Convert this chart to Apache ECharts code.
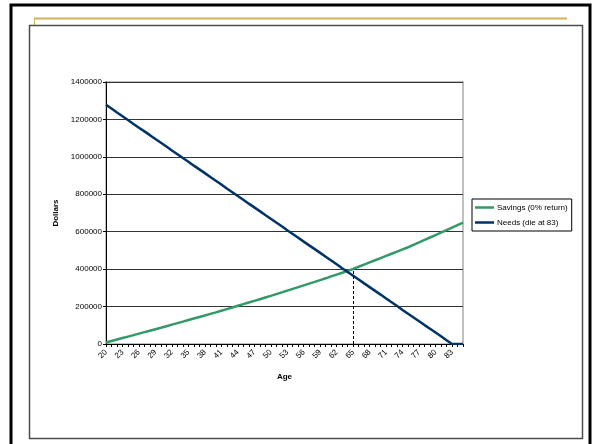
<!DOCTYPE html>
<html>
<head>
<meta charset="utf-8">
<script src="https://cdn.jsdelivr.net/npm/echarts@6/dist/echarts.min.js"></script>
<style>
html,body{margin:0;padding:0;background:#fff;}
#chart{width:600px;height:444px;}
</style>
</head>
<body>
<div id="chart"></div>
<script>
const ages = [20,21,22,23,24,25,26,27,28,29,30,31,32,33,34,35,36,37,38,39,40,41,42,43,44,45,46,47,48,49,50,51,52,53,54,55,56,57,58,59,60,61,62,63,64,65,66,67,68,69,70,71,72,73,74,75,76,77,78,79,80,81,82,83,84,85];
const savings = [8000,15900,23800,31700,39600,47500,55400,63300,71200,79100,87000,95200,103400,111600,119800,128000,136200,144400,152600,160800,169000,177800,186600,195400,204200,213000,221800,230600,239400,248200,257000,266400,275800,285200,294600,304000,313400,322800,332200,341600,351000,361000,371000,381000,391000,401000,412600,424200,435800,447400,459000,470600,482200,493800,505400,517000,530000,543000,556000,569000,582000,595000,608500,622000,635500,649000];
const needs = [1278000,1258000,1237000,1217000,1197000,1176000,1156000,1136000,1116000,1095000,1075000,1055000,1034000,1014000,994000,974000,953000,933000,913000,892000,872000,852000,831000,811000,791000,771000,750000,730000,710000,689000,669000,649000,629000,608000,588000,568000,547000,527000,507000,487000,466000,446000,426000,405000,385000,365000,345000,324000,304000,284000,264000,243000,223000,203000,182000,162000,142000,122000,101000,81000,61000,41000,20000,0,0,0];
const seriesNames = ['Savings (0% return)', 'Needs (die at 83)'];
const yTicks = {min: 0, max: 1400000, interval: 200000};
const retireAge = 65;

const chart = echarts.init(document.getElementById('chart'), null, {renderer: 'canvas'});
const font = 'Liberation Sans, Arial, sans-serif';
const retireIdx = ages.indexOf(retireAge);

chart.setOption({
  animation: false,
  backgroundColor: '#fff',
  graphic: [
    {type: 'rect', shape: {x: 11, y: 5, width: 579, height: 470}, style: {fill: 'none', stroke: '#000', lineWidth: 3}},
    {type: 'line', shape: {x1: 34, y1: 18.5, x2: 567, y2: 18.5}, style: {stroke: '#d4b257', lineWidth: 2}},
    {type: 'line', shape: {x1: 34.5, y1: 18, x2: 34.5, y2: 25}, style: {stroke: '#d4b257', lineWidth: 1}},
    {type: 'rect', shape: {x: 29.5, y: 25.5, width: 553, height: 413}, style: {fill: 'none', stroke: '#4d4d4d', lineWidth: 1.5}}
  ],
  grid: {left: 106, top: 82, width: 357, height: 262, show: true, borderColor: '#c0c0c0', borderWidth: 2, containLabel: false},
  legend: {
    orient: 'vertical', left: 472, top: 199,
    data: seriesNames.map(n => ({name: n, icon: 'rect'})),
    itemWidth: 19, itemHeight: 2.5, itemGap: 4,
    padding: [3, 4, 3, 3],
    borderColor: '#000', borderWidth: 1,
    textStyle: {fontFamily: font, fontSize: 8, color: '#000', lineHeight: 11, padding: [0, 0, 0, -2]}
  },
  xAxis: {
    type: 'category', data: ages.map(String), boundaryGap: false,
    name: 'Age', nameLocation: 'middle', nameGap: 29,
    nameTextStyle: {fontFamily: font, fontSize: 8, fontWeight: 'bold', color: '#000'},
    axisLine: {lineStyle: {color: '#000', width: 1}},
    axisTick: {show: true, interval: 0, length: 3, lineStyle: {color: '#000'}},
    axisLabel: {interval: 2, rotate: 45, fontFamily: font, fontSize: 8, color: '#000', margin: 7},
    splitLine: {show: false}
  },
  yAxis: {
    type: 'value', min: yTicks.min, max: yTicks.max, interval: yTicks.interval,
    name: 'Dollars', nameLocation: 'middle', nameGap: 38, nameRotate: 90,
    nameTextStyle: {fontFamily: font, fontSize: 8, fontWeight: 'bold', color: '#000'},
    axisLine: {show: true, lineStyle: {color: '#000', width: 1}},
    axisTick: {show: true, length: 3, lineStyle: {color: '#000'}},
    axisLabel: {fontFamily: font, fontSize: 8, color: '#000', margin: 4, formatter: v => String(v)},
    splitLine: {show: true, lineStyle: {color: '#333', width: 1}}
  },
  series: [
    {
      name: seriesNames[0], type: 'line', data: savings, symbol: 'none',
      lineStyle: {color: '#339966', width: 2.5}, itemStyle: {color: '#339966'},
      markLine: {
        silent: true, symbol: 'none', label: {show: false},
        lineStyle: {color: '#000', type: [3, 2], width: 1},
        data: [[{coord: [String(retireAge), 0]}, {coord: [String(retireAge), savings[retireIdx]]}]]
      }
    },
    {
      name: seriesNames[1], type: 'line', data: needs, symbol: 'none',
      lineStyle: {color: '#003366', width: 2.5}, itemStyle: {color: '#003366'}
    }
  ]
});
</script>
</body>
</html>
